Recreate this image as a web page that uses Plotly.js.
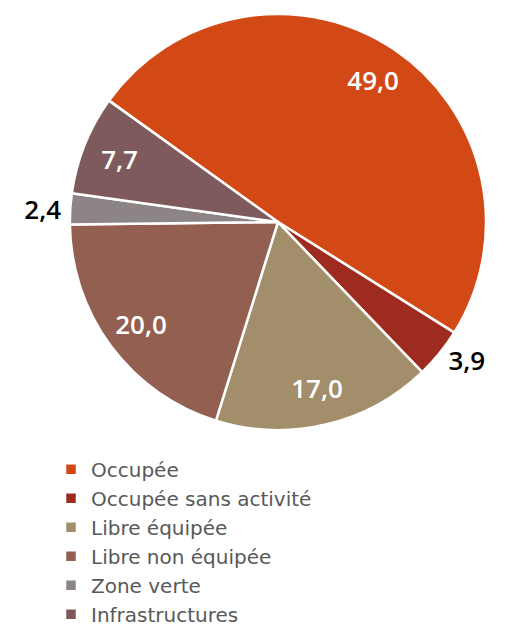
<!DOCTYPE html>
<html><head><meta charset="utf-8">
<script src="https://cdn.plot.ly/plotly-3.0.1.min.js"></script>
<style>html,body{margin:0;padding:0;background:#fff}#chart{width:510px;height:629px}</style>
</head><body><div id="chart"></div>
<script>
const categories = ["Occupée", "Occupée sans activité", "Libre équipée", "Libre non équipée", "Zone verte", "Infrastructures"];
const values = [49.0, 3.9, 17.0, 20.0, 2.4, 7.7];
const colors = ["#D24916", "#9E2B1F", "#A28E6A", "#925F50", "#8D8585", "#7F5A5C"];
const outsidePositions = ["none", "outside", "none", "none", "outside", "none"];
const insidePositions = ["inside", "none", "inside", "inside", "none", "inside"];

const domain = {x: [0.137, 0.953], y: [0.316, 0.978]};

const mainPie = {
  type: "pie",
  labels: categories,
  values: values,
  sort: false,
  direction: "clockwise",
  rotation: -54.3,
  marker: {colors: colors, line: {color: "#ffffff", width: 2.5}},
  texttemplate: "%{value:.1f}",
  textposition: outsidePositions,
  textfont: {family: "Open Sans, sans-serif", size: 26, color: "#000000", weight: 600},
  hoverinfo: "none",
  domain: domain,
  automargin: false
};

// transparent ring used only to place the inside labels further out
const labelRing = {
  type: "pie",
  labels: categories,
  values: values,
  sort: false,
  direction: "clockwise",
  rotation: -54.3,
  hole: 0.64,
  marker: {colors: categories.map(() => "rgba(0,0,0,0)"), line: {width: 0}},
  texttemplate: "%{value:.1f}",
  textposition: insidePositions,
  insidetextorientation: "horizontal",
  textfont: {family: "Open Sans, sans-serif", size: 26, color: "#ffffff", weight: 600},
  hoverinfo: "none",
  showlegend: false,
  domain: domain,
  automargin: false
};

const layout = {
  width: 510, height: 629,
  margin: {l: 0, r: 0, t: 0, b: 0, autoexpand: false},
  separators: ", ",
  paper_bgcolor: "#ffffff",
  showlegend: true,
  legend: {
    x: 0.1, y: 0.285, xanchor: "left", yanchor: "top",
    font: {family: "DejaVu Sans, sans-serif", size: 20, color: "#595959"},
    tracegroupgap: 0, itemwidth: 30
  }
};
Plotly.newPlot("chart", [mainPie, labelRing], layout, {displayModeBar: false, staticPlot: true});
</script></body></html>
